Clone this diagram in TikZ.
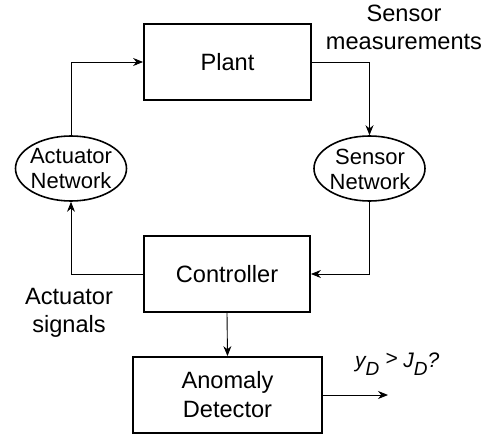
\documentclass[tikz,border=0pt]{standalone}
\usepackage{fontspec}
\setmainfont{Liberation Sans}
\usetikzlibrary{shapes.geometric,arrows.meta}
\begin{document}
\begin{tikzpicture}[x=1pt,y=-1pt,
  blk/.style={draw,line width=1.8pt,minimum height=76pt,inner sep=0pt,
    font=\fontsize{23.6}{29}\selectfont,align=center},
  netel/.style={draw,ellipse,line width=1.6pt,minimum width=111pt,minimum height=65pt,inner sep=0pt},
  nettxt/.style={inner sep=0pt,align=center,font=\fontsize{22}{25}\selectfont},
  lbl/.style={inner sep=0pt,align=center,font=\fontsize{23.6}{28}\selectfont},
  arr/.style={line width=0.9pt,-{Stealth[length=10pt,width=8pt]}}]
\useasboundingbox (0,0) rectangle (493,436);
\node[blk,minimum width=167pt] (plant) at (227.5,62) {Plant};
\node[blk,minimum width=166pt] (ctrl) at (227,274) {Controller};
\node[blk,minimum width=189pt] (ad) at (227.5,395) {Anomaly\\Detector};
\node[netel] (an) at (71,168.5) {};
\node[nettxt] (antxt) at (71,169) {Actuator\\Network};
\node[netel] (sn) at (369.5,168.5) {};
\node[nettxt] (sntxt) at (370,169) {Sensor\\Network};
\node[lbl,anchor=north] (sm) at (404,4.5) {Sensor\\measurements};
\node[lbl,anchor=north] (as) at (69,288) {Actuator\\signals};
\node[anchor=base west,inner sep=0pt,font=\fontsize{21}{25}\selectfont\itshape] (yd) at (355,367)
  {y\raisebox{-0.4em}{\fontsize{19}{20}\selectfont D} \raisebox{0.05em}{>} J\raisebox{-0.4em}{\fontsize{19}{20}\selectfont D}?};
\coordinate (out) at (388,395);
\draw[arr] (an.north) |- (plant.west);
\draw[arr] (plant.east) -| (sn.north);
\draw[arr] (sn.south) |- (ctrl.east);
\draw[arr] (ctrl.west) -| (an.south);
\draw[arr] (ctrl.south) -- (ad.north);
\draw[arr] (ad.east) -- (out);
\end{tikzpicture}
\end{document}
